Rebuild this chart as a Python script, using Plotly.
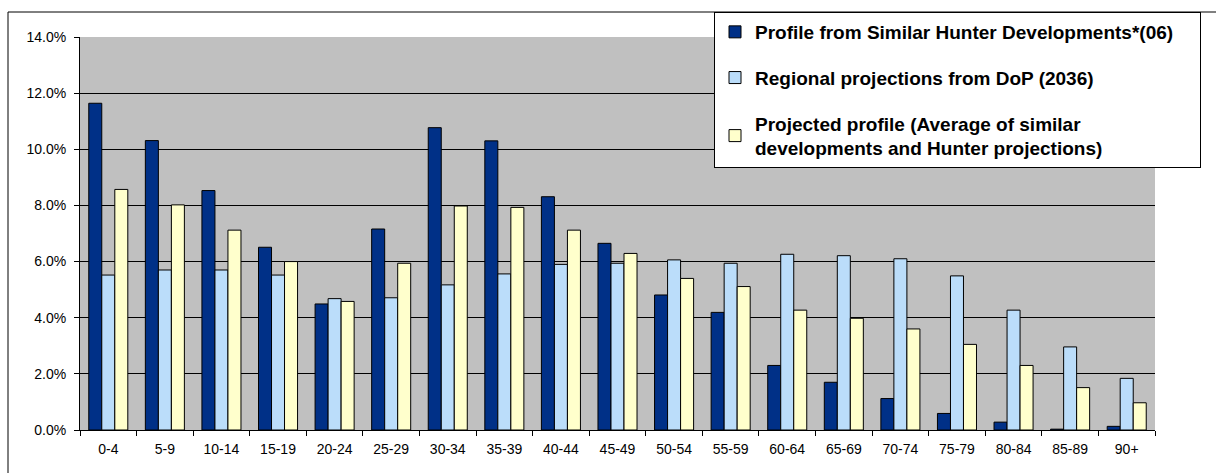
import plotly.graph_objects as go

categories = ["0-4", "5-9", "10-14", "15-19", "20-24", "25-29", "30-34", "35-39", "40-44",
              "45-49", "50-54", "55-59", "60-64", "65-69", "70-74", "75-79", "80-84", "85-89", "90+"]
similar_hunter = [11.64, 10.31, 8.53, 6.51, 4.49, 7.16, 10.77, 10.30, 8.31,
                  6.65, 4.81, 4.19, 2.30, 1.70, 1.12, 0.59, 0.28, 0.03, 0.13]
regional_dop = [5.52, 5.70, 5.70, 5.52, 4.68, 4.71, 5.17, 5.56, 5.90,
                5.94, 6.06, 5.94, 6.26, 6.21, 6.10, 5.49, 4.27, 2.96, 1.84]
projected = [8.57, 8.02, 7.12, 6.00, 4.58, 5.94, 7.98, 7.93, 7.12,
             6.29, 5.40, 5.11, 4.27, 3.98, 3.60, 3.05, 2.30, 1.51, 0.97]
y_ticks = [0, 2, 4, 6, 8, 10, 12, 14]
y_tick_labels = ["0.0%", "2.0%", "4.0%", "6.0%", "8.0%", "10.0%", "12.0%", "14.0%"]

series = [
    ("Profile from Similar Hunter Developments*(06)\u00a0\u00a0\u00a0\u00a0", similar_hunter, "#003087", "g1"),
    ("Regional projections from DoP (2036)", regional_dop, "#BBDDFA", "g2"),
    ("Projected profile (Average of similar<br>developments and Hunter projections)", projected, "#FFFFCC", "g3"),
]

fig = go.Figure()
for name, vals, color, grp in series:
    fig.add_trace(go.Bar(
        x=categories, y=vals, name=name, legendgroup=grp,
        marker=dict(color=color, line=dict(color="#000000", width=1)),
    ))

fig.update_layout(
    width=1216, height=473,
    margin=dict(l=80, r=61, t=37, b=43),
    paper_bgcolor="#FFFFFF",
    plot_bgcolor="#C0C0C0",
    barmode="group", bargap=0.31, bargroupgap=0,
    font=dict(family="Liberation Sans, Arial, sans-serif", color="#000000", size=13.5),
    showlegend=True,
    legend=dict(
        x=(714 - 80) / 1075, y=(430 - 12) / 393, xanchor="left", yanchor="top",
        bgcolor="#FFFFFF", bordercolor="#000000", borderwidth=1,
        font=dict(size=19, family="Liberation Sans, Arial, sans-serif", color="#000000",
                  weight="bold"),
        traceorder="grouped", tracegroupgap=18,
        itemwidth=30,
    ),
    xaxis=dict(
        showline=True, linecolor="#000000", linewidth=1,
        ticks="outside", tickson="boundaries", ticklen=5, tickcolor="#000000",
        tickfont=dict(size=14), showgrid=False, ticklabelstandoff=6,
    ),
    yaxis=dict(
        range=[0, 14], tickvals=y_ticks, ticktext=y_tick_labels,
        showline=True, linecolor="#000000", linewidth=1,
        ticks="outside", ticklen=5, tickcolor="#000000",
        showgrid=True, gridcolor="#000000", gridwidth=1,
        tickfont=dict(size=14), zeroline=False, ticklabelstandoff=5,
    ),
    shapes=[dict(type="rect", xref="paper", yref="paper",
                 x0=(8 - 80) / 1075, x1=(1230 - 80) / 1075,
                 y0=(430 - 490) / 393, y1=(430 - 12) / 393,
                 line=dict(color="#000000", width=1), fillcolor="rgba(0,0,0,0)",
                 layer="below")],
)

fig.write_html("out.html")
